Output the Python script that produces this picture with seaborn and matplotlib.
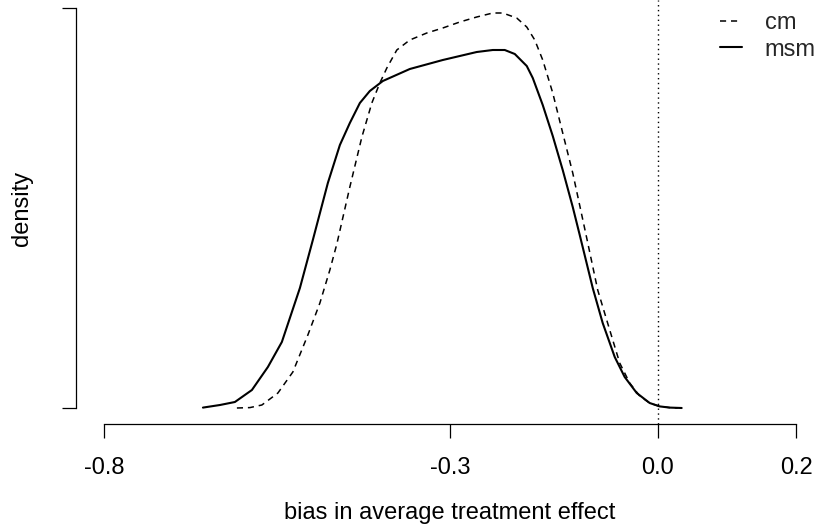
import matplotlib
matplotlib.use("Agg")
import matplotlib.pyplot as plt
import seaborn as sns
import pandas as pd

# ---- data ----
msm_x = [-0.6575, -0.6329, -0.6113, -0.5867, -0.5636, -0.5434, -0.5318, -0.5173,
         -0.4986, -0.4769, -0.4595, -0.4451, -0.4306, -0.4162, -0.3974, -0.3584,
         -0.3107, -0.2616, -0.2384, -0.2211, -0.2066, -0.1893, -0.1806, -0.1662,
         -0.1517, -0.1373, -0.1228, -0.1127, -0.0939, -0.0795, -0.0621, -0.0477,
         -0.0303, -0.0116, 0.0029, 0.0173, 0.0347]
msm_y = [0.001, 0.0075, 0.015, 0.045, 0.1025, 0.165, 0.225, 0.300,
         0.420, 0.5625, 0.6575, 0.7125, 0.7625, 0.7925, 0.8175, 0.8475,
         0.870, 0.890, 0.895, 0.895, 0.885, 0.855, 0.825, 0.7575,
         0.680, 0.595, 0.5025, 0.4325, 0.300, 0.2125, 0.1275, 0.0775,
         0.0375, 0.0125, 0.004, 0.001, 0.0]

cm_x = [-0.6084, -0.5896, -0.5723, -0.5491, -0.5275, -0.5058, -0.4884, -0.4740,
        -0.4639, -0.4451, -0.4277, -0.4133, -0.4017, -0.3916, -0.3772, -0.3584,
        -0.3338, -0.3107, -0.2861, -0.2616, -0.2384, -0.2240, -0.2038, -0.1893,
        -0.1777, -0.1662, -0.1517, -0.1373, -0.1228, -0.1026, -0.0867, -0.0737,
        -0.0549, -0.0405, -0.0260, -0.0116, 0.0029, 0.0173, 0.0289]
cm_y = [0.0, 0.001, 0.0075, 0.0375, 0.090, 0.1825, 0.2625, 0.345,
        0.410, 0.5525, 0.6775, 0.7625, 0.8125, 0.850, 0.895, 0.920,
        0.9375, 0.950, 0.965, 0.9775, 0.9875, 0.9875, 0.975, 0.9525,
        0.920, 0.870, 0.7875, 0.6875, 0.5875, 0.425, 0.295, 0.220,
        0.1125, 0.0625, 0.030, 0.0125, 0.004, 0.001, 0.0]

x_ticks = [-0.8, -0.3, 0.0, 0.2]
x_tick_labels = ["-0.8", "-0.3", "0.0", "0.2"]
y_ticks = [0.0, 1.0]
series_names = ["cm", "msm"]
ref_x = 0.0

# ---- style ----
sns.set_style("ticks")
plt.rcParams["font.family"] = ["Liberation Sans", "DejaVu Sans"]
FS = 17

fig = plt.figure(figsize=(8.15, 5.29), dpi=100)
ax = fig.add_axes([76 / 815, 105 / 529, 720 / 815, 424 / 529])

df_cm = pd.DataFrame({"bias": cm_x, "density": cm_y})
df_msm = pd.DataFrame({"bias": msm_x, "density": msm_y})

sns.lineplot(data=df_cm, x="bias", y="density", ax=ax, color="black",
             linewidth=1.1, sort=False, estimator=None,
             linestyle=(0, (4, 3.2)), label=series_names[0])
sns.lineplot(data=df_msm, x="bias", y="density", ax=ax, color="black",
             linewidth=1.5, sort=False, estimator=None,
             linestyle="-", label=series_names[1])

ax.axvline(ref_x, color="black", linewidth=1.0, linestyle=(0, (1, 2.5)))

ax.set_xlim(-0.84104, 0.2)
ax.set_ylim(-0.04, 1.02)

for s in ["top", "right"]:
    ax.spines[s].set_visible(False)
ax.spines["left"].set_bounds(y_ticks[0], y_ticks[-1])
ax.spines["bottom"].set_bounds(x_ticks[0], x_ticks[-1])
for s in ["left", "bottom"]:
    ax.spines[s].set_color("black")
    ax.spines[s].set_linewidth(0.9)

ax.set_xticks(x_ticks)
ax.set_xticklabels(x_tick_labels)
ax.set_yticks(y_ticks)
ax.set_yticklabels([])
ax.tick_params(axis="both", direction="out", length=10.1, width=0.9,
               color="black", labelsize=FS, labelcolor="black",
               bottom=True, left=True)
ax.tick_params(axis="x", pad=13.5)
ax.set_xlabel("")
ax.set_ylabel("")

fig.text(450 / 815, (529 - 519) / 529, "bias in average treatment effect",
         ha="center", va="baseline", fontsize=FS, color="black")
fig.text(22 / 815, (529 - 208) / 529, "density", rotation=90,
         ha="center", va="center", fontsize=FS, color="black")

handles, labels = ax.get_legend_handles_labels()
ax.legend(handles, labels, loc="upper left",
          bbox_to_anchor=(720 / 815, (529 - 12) / 529),
          bbox_transform=fig.transFigure, frameon=False, fontsize=FS,
          handlelength=0.95, handletextpad=0.95, borderpad=0,
          borderaxespad=0, labelspacing=0.2)

fig.savefig("out.png", dpi=100)
